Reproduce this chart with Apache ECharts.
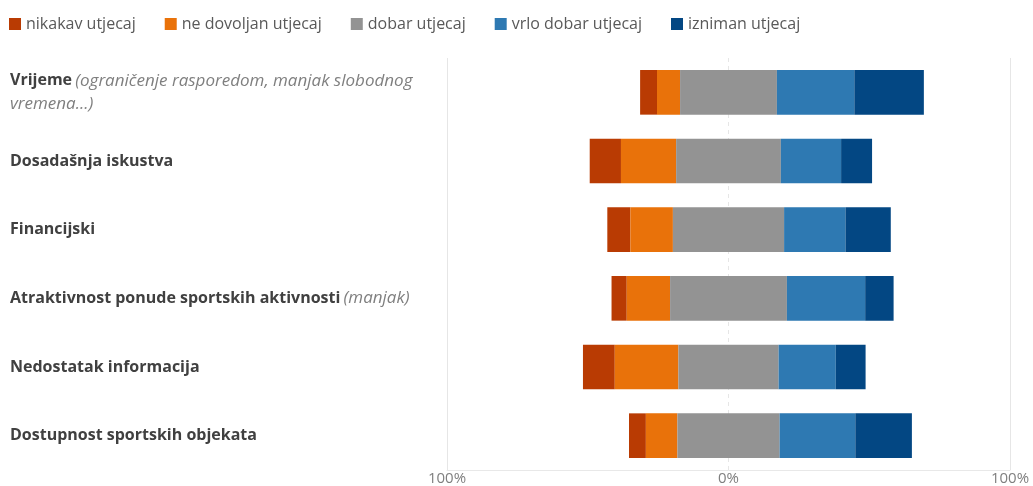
<!DOCTYPE html>
<html>
<head>
<meta charset="utf-8">
<script src="https://cdn.jsdelivr.net/npm/echarts@6/dist/echarts.min.js"></script>
<style>html,body{margin:0;padding:0;background:#fff;}#c{width:1033px;height:486px;}</style>
</head>
<body>
<div id="c"></div>
<script>
var categories = ['Vrijeme', 'Dosadašnja iskustva', 'Financijski', 'Atraktivnost ponude sportskih aktivnosti', 'Nedostatak informacija', 'Dostupnost sportskih objekata'];
var notes = ['(ograničenje rasporedom, manjak slobodnog\nvremena...)', '', '', '(manjak)', '', ''];
var seriesNames = ['nikakav utjecaj', 'ne dovoljan utjecaj', 'dobar utjecaj', 'vrlo dobar utjecaj', 'izniman utjecaj'];
var nikakav = [6.0, 11.1, 8.2, 5.4, 11.3, 6.0];
var neDovoljan = [8.2, 19.6, 15.1, 15.4, 22.6, 11.2];
var dobar = [34.4, 37.2, 39.5, 41.5, 35.6, 36.3];
var vrloDobar = [27.5, 21.4, 21.8, 27.8, 20.3, 26.9];
var izniman = [24.7, 11.0, 16.1, 10.1, 10.6, 20.1];
var xTicks = [0, 100, 200];   // shown as 100%, 0%, 100% (axis shifted by 100)

var colors = ['#B93B03', '#E9720A', '#939393', '#2E79B2', '#034783'];
var FONT = 'Open Sans';

// invisible offset so that the middle of "dobar" sits on the 0% line
var offset = categories.map(function (c, i) {
  return 100 - nikakav[i] - neDovoljan[i] - dobar[i] / 2;
});

function bar(name, data, color) {
  return {
    name: name, type: 'bar', stack: 'total', data: data,
    barCategoryGap: '35%', zlevel: 1,
    itemStyle: { color: color },
    emphasis: { disabled: true }
  };
}

var chart = echarts.init(document.getElementById('c'));
chart.setOption({
  animation: false,
  textStyle: { fontFamily: FONT },
  legend: {
    data: seriesNames,
    left: 4, top: 11,
    itemWidth: 12, itemHeight: 12, itemGap: 29,
    icon: 'rect',
    itemStyle: { borderWidth: 0 },
    textStyle: { fontSize: 16, color: '#595959', fontFamily: FONT }
  },
  grid: { left: 447, right: 23, top: 58, bottom: 16 },
  xAxis: [{
    type: 'value', min: 0, max: 200, interval: 100,
    axisLine: { show: true, lineStyle: { color: '#e8e8e8' } },
    axisTick: { show: false },
    axisLabel: {
      margin: 1, fontSize: 15, color: '#7f7f7f', fontFamily: FONT,
      customValues: xTicks,
      formatter: function (v) { return Math.abs(v - 100) + '%'; }
    },
    splitLine: { show: true, lineStyle: { color: ['#e6e6e6', 'rgba(0,0,0,0)', '#e6e6e6'] } }
  }, {
    type: 'value', min: 0, max: 200, interval: 100, position: 'bottom',
    axisLine: { show: false }, axisTick: { show: false }, axisLabel: { show: false },
    splitLine: { show: true, lineStyle: { color: ['rgba(0,0,0,0)', '#e6e6e6', 'rgba(0,0,0,0)'], type: [4, 4] } }
  }],
  yAxis: {
    type: 'category', data: categories, inverse: true,
    axisLine: { show: false }, axisTick: { show: false },
    axisLabel: {
      align: 'left', margin: 437,
      formatter: function (v, i) {
        var n = notes[i];
        if (!n) return '{b|' + v + '}';
        var parts = n.split('\n');
        var s = '{b|' + v + '} {i|' + parts[0] + '}';
        for (var j = 1; j < parts.length; j++) s += '\n{i|' + parts[j] + '}';
        return s;
      },
      rich: {
        b: { fontWeight: 'bold', fontSize: 16, color: '#404040', fontFamily: FONT, lineHeight: 23 },
        i: { fontStyle: 'italic', fontSize: 17, color: '#7f7f7f', fontFamily: FONT, lineHeight: 23 }
      }
    }
  },
  series: [
    {
      name: 'offset', type: 'bar', stack: 'total', data: offset,
      barCategoryGap: '35%', zlevel: 1, silent: true,
      itemStyle: { color: 'rgba(0,0,0,0)' },
      emphasis: { disabled: true }
    },
    bar(seriesNames[0], nikakav, colors[0]),
    bar(seriesNames[1], neDovoljan, colors[1]),
    bar(seriesNames[2], dobar, colors[2]),
    bar(seriesNames[3], vrloDobar, colors[3]),
    bar(seriesNames[4], izniman, colors[4])
  ]
});
</script>
</body>
</html>
